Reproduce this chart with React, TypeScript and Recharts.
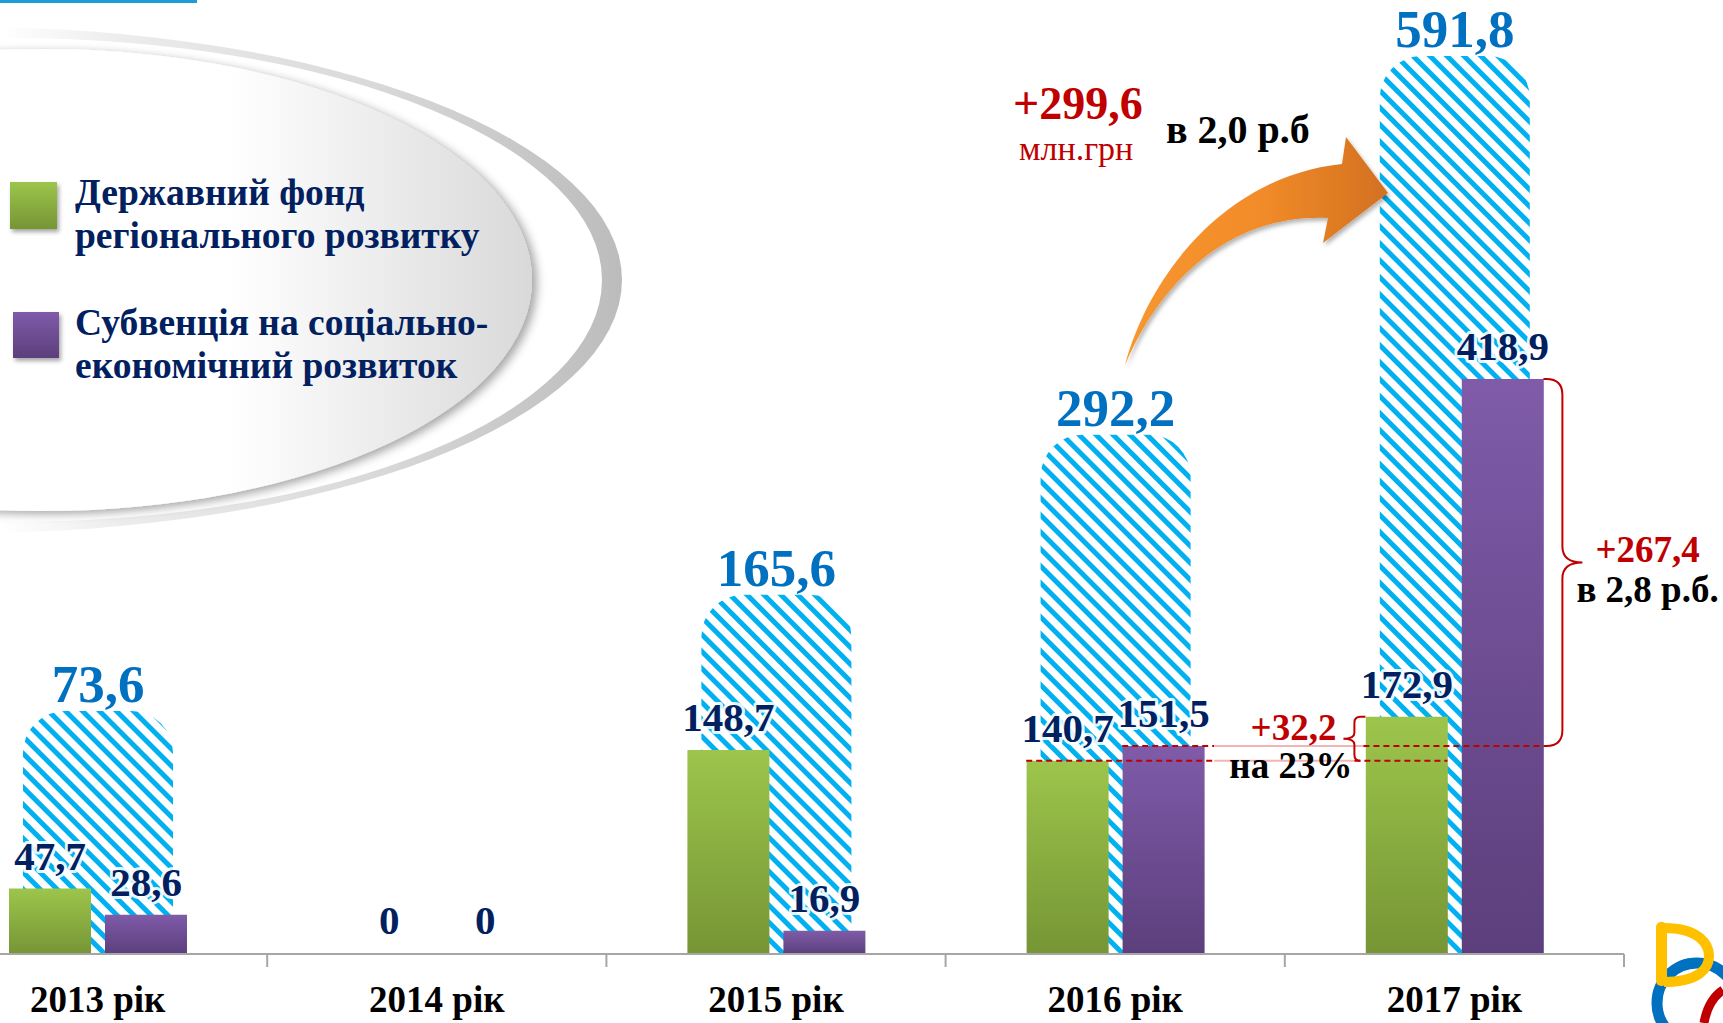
import React from 'react';
import { BarChart, Bar, XAxis, YAxis, LabelList, ReferenceLine, Legend } from 'recharts';

// ---------------- data ----------------
const YEARS = ['2013 рік', '2014 рік', '2015 рік', '2016 рік', '2017 рік'];
const FUND = [47.7, 0, 148.7, 140.7, 172.9];
const SUBV = [28.6, 0, 16.9, 151.5, 418.9];
const TOTAL: (number | null)[] = [73.6, null, 165.6, 292.2, 591.8];
const FUND_LINES = ['Державний фонд', 'регіонального розвитку'];
const SUBV_LINES = ['Субвенція на соціально-', 'економічний розвиток'];
const UNIT = 'млн.грн';

// ---------------- helpers ----------------
const fmt = (v: number) => (v === 0 ? '0' : v.toFixed(1).replace('.', ','));
const diffTxt = (a: number, b: number) => '+' + fmt(a - b);
const ratioTxt = (a: number, b: number) => (a / b).toFixed(1).replace('.', ',');
const pctTxt = (a: number, b: number) => Math.round((a / b - 1) * 100) + '%';

const data = YEARS.map((year, i) => ({ year, fund: FUND[i], subv: SUBV[i], total: TOTAL[i] }));

// ---------------- layout ----------------
const PAGE_W = 1723;
const PAGE_H = 1023;
const CHART_LEFT = -72;
const CHART_W = 1800;
const CHART_H = 1023;
const M = { top: 5, right: 104, bottom: 0, left: 0 };
const X_AXIS_H = 69;
const PLOT_W = CHART_W - M.left - M.right;
const PLOT_H = CHART_H - M.top - M.bottom - X_AXIS_H;
const BAND = PLOT_W / YEARS.length;
const PX_PER_UNIT = 1.3727;
const MAIN_MAX = PLOT_H / PX_PER_UNIT;
const BG_OFFSET_PX = 150;
const BG_PX_PER_UNIT = 1.264;
const BG_MIN = -BG_OFFSET_PX / BG_PX_PER_UNIT;
const BG_MAX = (PLOT_H - BG_OFFSET_PX) / BG_PX_PER_UNIT;
const BAR = 82;
const GAP = 14;
const BG_BAR = 150;
const HALF_GROUP = BAR + GAP / 2; // centre -> outer edge of a bar pair

const SERIF = "'Liberation Serif', 'Times New Roman', Times, serif";
const NAVY = '#002060';
const BLUE = '#0070c0';
const RED = '#c00000';
const PINK = '#f2b4b4';
const HATCH = '#00b0f0';

const hatchKey = (d: any) => (d.total == null ? null : [BG_MIN, d.total]);
const zeroVisible = (v: any) => (Number(v) === 0 ? 1 : 0);

// ---------------- labels ----------------
const ValueLabel = (p: any) => {
  const { x, y, width, value } = p;
  if (value == null) return null;
  return (
    <text
      x={Number(x) + Number(width) / 2}
      y={Number(y) - 19}
      textAnchor="middle"
      fontFamily={SERIF}
      fontWeight="bold"
      fontSize={41}
      fill={NAVY}
      stroke="#ffffff"
      strokeOpacity={0.9}
      strokeWidth={6}
      strokeLinejoin="round"
      paintOrder="stroke"
    >
      {fmt(Number(value))}
    </text>
  );
};

const TotalLabel = (p: any) => {
  const { x, y, width, value } = p;
  const v = Array.isArray(value) ? value[1] : value;
  if (v == null || isNaN(Number(v))) return null;
  return (
    <text
      x={Number(x) + Number(width) / 2}
      y={Number(y) - 9}
      textAnchor="middle"
      fontFamily={SERIF}
      fontWeight="bold"
      fontSize={53}
      fill={BLUE}
    >
      {fmt(Number(v))}
    </text>
  );
};

const YearTick = (p: any) => {
  const { x, y, payload } = p;
  return (
    <g>
      <line x1={x + BAND / 2} y1={y} x2={x + BAND / 2} y2={y + 13} stroke="#a6a6a6" strokeWidth={2} />
      <text x={x} y={y + 58} textAnchor="middle" fontFamily={SERIF} fontWeight="bold" fontSize={37} fill="#000">
        {payload.value}
      </text>
    </g>
  );
};

// ---------------- guide lines & braces ----------------
const seg = (xa: number, xb: number, y: number, dashed: boolean, key: string) => (
  <line key={key} x1={xa} y1={y} x2={xb} y2={y} stroke={dashed ? RED : PINK} strokeWidth={2} strokeDasharray={dashed ? '6 4' : undefined} />
);

// guide from the 2016 green bar top to the 2017 green bar
const FundGuide = (p: any) => {
  const c3 = Number(p.x1);
  const c4 = Number(p.x2);
  const y = Number(p.y1);
  const a = c3 + HALF_GROUP + 10;
  const b = c4 - HALF_GROUP - 11;
  return (
    <g>
      {seg(c3 - HALF_GROUP, a, y, true, 'a')}
      {seg(a, b, y, false, 'b')}
      {seg(b, c4 - GAP / 2, y, true, 'c')}
    </g>
  );
};

// guide from the 2016 purple bar top to the 2017 purple bar
const SubvGuide = (p: any) => {
  const c3 = Number(p.x1);
  const c4 = Number(p.x2);
  const y = Number(p.y1);
  const a = c3 + HALF_GROUP + 10;
  const b = c4 - HALF_GROUP - 2;
  return (
    <g>
      {seg(c3 + GAP / 2, a, y, true, 'a')}
      {seg(a, b, y, false, 'b')}
      {seg(b, c4 + HALF_GROUP, y, true, 'c')}
    </g>
  );
};

const SubvBrace = (p: any) => {
  const x0 = Number(p.x1) + HALF_GROUP;
  const top = Math.min(Number(p.y1), Number(p.y2));
  const bot = Math.max(Number(p.y1), Number(p.y2));
  const xb = x0 + 19;
  const xt = x0 + 39;
  const r = 16;
  const ym = (top + bot) / 2;
  const d = `M${x0},${top} L${xb - r},${top} Q${xb},${top} ${xb},${top + r} L${xb},${ym - r} Q${xb},${ym} ${xt},${ym} Q${xb},${ym} ${xb},${ym + r} L${xb},${bot - r} Q${xb},${bot} ${xb - r},${bot} L${x0},${bot}`;
  return (
    <g>
      <path d={d} fill="none" stroke={RED} strokeWidth={2} />
      <text x={xt + 13} y={ym - 1} fontFamily={SERIF} fontWeight="bold" fontSize={37} fill={RED}>
        {diffTxt(SUBV[4], SUBV[3])}
      </text>
      <text x={x0 + 33} y={ym + 39} fontFamily={SERIF} fontWeight="bold" fontSize={37} fill="#000">
        {'в ' + ratioTxt(SUBV[4], SUBV[3]) + ' р.б.'}
      </text>
    </g>
  );
};

const FundBrace = (p: any) => {
  const x0 = Number(p.x1) - HALF_GROUP;
  const top = Math.min(Number(p.y1), Number(p.y2));
  const bot = Math.max(Number(p.y1), Number(p.y2));
  const xs = x0 - 11;
  const xt = xs - 11;
  const r = 6;
  const ym = (top + bot) / 2;
  const d = `M${x0},${top} L${xs + r},${top} Q${xs},${top} ${xs},${top + r} L${xs},${ym - r} Q${xs},${ym} ${xt},${ym} Q${xs},${ym} ${xs},${ym + r} L${xs},${bot - r} Q${xs},${bot} ${xs + r},${bot}`;
  return (
    <g>
      <path d={d} fill="none" stroke={RED} strokeWidth={2} />
      <text x={xt - 7} y={ym + 1} textAnchor="end" fontFamily={SERIF} fontWeight="bold" fontSize={37} fill={RED}>
        {diffTxt(FUND[4], FUND[3])}
      </text>
      <text x={xs - 2} y={bot + 17} textAnchor="end" fontFamily={SERIF} fontWeight="bold" fontSize={37} fill="#000">
        {'на ' + pctTxt(FUND[4], FUND[3])}
      </text>
    </g>
  );
};

// ---------------- legend ----------------
const LegendContent = () => (
  <svg width={560} height={420} style={{ display: 'block', overflow: 'visible' }}>
    <defs>
      <linearGradient id="legGreen" x1="0" y1="0" x2="0" y2="1">
        <stop offset="0" stopColor="#9dc54b" />
        <stop offset="1" stopColor="#769535" />
      </linearGradient>
      <linearGradient id="legPurple" x1="0" y1="0" x2="0" y2="1">
        <stop offset="0" stopColor="#7f5ba9" />
        <stop offset="1" stopColor="#5c3f7c" />
      </linearGradient>
      <filter id="sqShadow" x="-30%" y="-30%" width="170%" height="170%">
        <feDropShadow dx="2" dy="3" stdDeviation="2" floodColor="#000" floodOpacity="0.35" />
      </filter>
    </defs>
    <rect x={10} y={182} width={47} height={47} fill="url(#legGreen)" filter="url(#sqShadow)" />
    <rect x={13} y={312} width={46} height={46} fill="url(#legPurple)" filter="url(#sqShadow)" />
    {FUND_LINES.map((t, i) => (
      <text key={t} x={75} y={205 + i * 43} fontFamily={SERIF} fontWeight="bold" fontSize={37.5} fill={NAVY}>
        {t}
      </text>
    ))}
    {SUBV_LINES.map((t, i) => (
      <text key={t} x={75} y={335 + i * 43} fontFamily={SERIF} fontWeight="bold" fontSize={37.5} fill={NAVY}>
        {t}
      </text>
    ))}
  </svg>
);

// ---------------- decorations ----------------
const Background = () => (
  <svg width={PAGE_W} height={PAGE_H} style={{ position: 'absolute', left: 0, top: 0 }}>
    <defs>
      <linearGradient id="ringGrad" gradientUnits="userSpaceOnUse" x1="0" y1="0" x2="622" y2="0">
        <stop offset="0" stopColor="#ffffff" />
        <stop offset="0.2" stopColor="#ececec" />
        <stop offset="0.6" stopColor="#d9d9d9" />
        <stop offset="1" stopColor="#bcbcbc" />
      </linearGradient>
      <linearGradient id="discGrad" gradientUnits="userSpaceOnUse" x1="230" y1="0" x2="532" y2="0">
        <stop offset="0" stopColor="#ffffff" />
        <stop offset="1" stopColor="#d9d9d9" />
      </linearGradient>
      <filter id="discShadow" x="-20%" y="-20%" width="140%" height="140%">
        <feDropShadow dx="5" dy="3" stdDeviation="5" floodColor="#000" floodOpacity="0.35" />
      </filter>
    </defs>
    <ellipse cx={-32} cy={280} rx={654} ry={253} fill="url(#ringGrad)" />
    <ellipse cx={13} cy={280} rx={589} ry={242} fill="#ffffff" />
    <ellipse cx={43} cy={280} rx={489} ry={231} fill="url(#discGrad)" filter="url(#discShadow)" />
    <rect x={0} y={0} width={197} height={3} fill="#1f9bd6" />
  </svg>
);

const Overlay = () => (
  <svg width={PAGE_W} height={PAGE_H} style={{ position: 'absolute', left: 0, top: 0, pointerEvents: 'none' }}>
    <defs>
      <linearGradient id="arrowGrad" gradientUnits="userSpaceOnUse" x1="1125" y1="0" x2="1390" y2="0">
        <stop offset="0" stopColor="#f7962f" />
        <stop offset="0.5" stopColor="#f28c2a" />
        <stop offset="1" stopColor="#d2701f" />
      </linearGradient>
      <filter id="arrowShadow" x="-20%" y="-20%" width="140%" height="140%">
        <feDropShadow dx="2" dy="3" stdDeviation="2" floodColor="#000" floodOpacity="0.3" />
      </filter>
    </defs>
    <path
      d="M1125,365 C1150,272 1228,176 1342,164 L1346,137 L1388,193 L1323,243 L1328,218 C1232,214 1162,278 1125,365 Z"
      fill="url(#arrowGrad)"
      filter="url(#arrowShadow)"
    />
    <text x={1013} y={119} fontFamily={SERIF} fontWeight="bold" fontSize={46} fill={RED}>
      {diffTxt(TOTAL[4] as number, TOTAL[3] as number)}
    </text>
    <text x={1019} y={160} fontFamily={SERIF} fontSize={34} fill={RED}>
      {UNIT}
    </text>
    <text x={1166} y={143} fontFamily={SERIF} fontWeight="bold" fontSize={40} fill="#000">
      {'в ' + ratioTxt(TOTAL[4] as number, TOTAL[3] as number) + ' р.б'}
    </text>
    {/* logo */}
    <circle cx={1697} cy={1003} r={40} fill="none" stroke="#0070c0" strokeWidth={11} />
    <rect x={1656} y={922} width={11} height={64} rx={5} fill="#ffc000" />
    <path d="M1664,928 C1700,928 1709,945 1709,956 C1709,969 1698,982 1664,982" fill="none" stroke="#ffc000" strokeWidth={10} />
    <path d="M1704,1023 C1707,1006 1714,996 1723,990" fill="none" stroke="#c00000" strokeWidth={9} />
  </svg>
);

export default function App() {
  return (
    <div style={{ position: 'absolute', left: 0, top: 0, width: PAGE_W, height: PAGE_H, overflow: 'hidden', background: '#fff' }}>
      <Background />
      <div style={{ position: 'absolute', left: CHART_LEFT, top: 0 }}>
        <BarChart width={CHART_W} height={CHART_H} data={data} margin={M} barGap={GAP}>
          <defs>
            <pattern id="hatch" width={12} height={12} patternUnits="userSpaceOnUse" patternTransform="rotate(-45)">
              <rect width={12} height={12} fill="#ffffff" />
              <rect width={5} height={12} fill={HATCH} />
            </pattern>
            <linearGradient id="gradGreen" x1="0" y1="0" x2="0" y2="1">
              <stop offset="0" stopColor="#9dc54b" />
              <stop offset="1" stopColor="#769535" />
            </linearGradient>
            <linearGradient id="gradPurple" x1="0" y1="0" x2="0" y2="1">
              <stop offset="0" stopColor="#7f5ba9" />
              <stop offset="1" stopColor="#5c3f7c" />
            </linearGradient>
          </defs>
          <XAxis
            xAxisId="axis"
            dataKey="year"
            height={X_AXIS_H}
            axisLine={{ stroke: '#a6a6a6', strokeWidth: 2 }}
            tickLine={false}
            tickSize={0}
            tickMargin={0}
            interval={0}
            tick={<YearTick />}
          />
          <XAxis xAxisId="bgAxis" dataKey="year" hide height={0} />
          <YAxis yAxisId="axis" type="number" domain={[0, MAIN_MAX]} hide allowDataOverflow />
          <YAxis yAxisId="bgAxis" type="number" domain={[BG_MIN, BG_MAX]} hide allowDataOverflow />
          <Legend
            layout="vertical"
            align="center"
            verticalAlign="middle"
            content={<LegendContent />}
            wrapperStyle={{ left: -CHART_LEFT, top: 0, width: 560, height: 420 }}
          />
          <Bar
            xAxisId="bgAxis"
            yAxisId="bgAxis"
            dataKey={hatchKey}
            name="Разом"
            barSize={BG_BAR}
            fill="url(#hatch)"
            radius={[42, 42, 0, 0]}
            legendType="none"
            isAnimationActive={false}
          >
            <LabelList dataKey="total" content={<TotalLabel />} />
          </Bar>
          <Bar
            xAxisId="axis"
            yAxisId="axis"
            dataKey="fund"
            name={FUND_LINES.join(' ')}
            barSize={BAR}
            fill="url(#gradGreen)"
            minPointSize={zeroVisible}
            isAnimationActive={false}
          >
            <LabelList dataKey="fund" content={<ValueLabel />} />
          </Bar>
          <Bar
            xAxisId="axis"
            yAxisId="axis"
            dataKey="subv"
            name={SUBV_LINES.join(' ')}
            barSize={BAR}
            fill="url(#gradPurple)"
            minPointSize={zeroVisible}
            isAnimationActive={false}
          >
            <LabelList dataKey="subv" content={<ValueLabel />} />
          </Bar>

          {/* growth guide lines and braces */}
          <ReferenceLine xAxisId="axis" yAxisId="axis" ifOverflow="visible"
            segment={[{ x: YEARS[3], y: FUND[3] }, { x: YEARS[4], y: FUND[3] }]}
            shape={(p: any) => <FundGuide {...p} />} />
          <ReferenceLine xAxisId="axis" yAxisId="axis" ifOverflow="visible"
            segment={[{ x: YEARS[3], y: SUBV[3] }, { x: YEARS[4], y: SUBV[3] }]}
            shape={(p: any) => <SubvGuide {...p} />} />
          <ReferenceLine xAxisId="axis" yAxisId="axis" ifOverflow="visible"
            segment={[{ x: YEARS[4], y: SUBV[4] }, { x: YEARS[4], y: SUBV[3] }]}
            shape={(p: any) => <SubvBrace {...p} />} />
          <ReferenceLine xAxisId="axis" yAxisId="axis" ifOverflow="visible"
            segment={[{ x: YEARS[4], y: FUND[4] }, { x: YEARS[4], y: FUND[3] }]}
            shape={(p: any) => <FundBrace {...p} />} />
        </BarChart>
      </div>
      <Overlay />
    </div>
  );
}
